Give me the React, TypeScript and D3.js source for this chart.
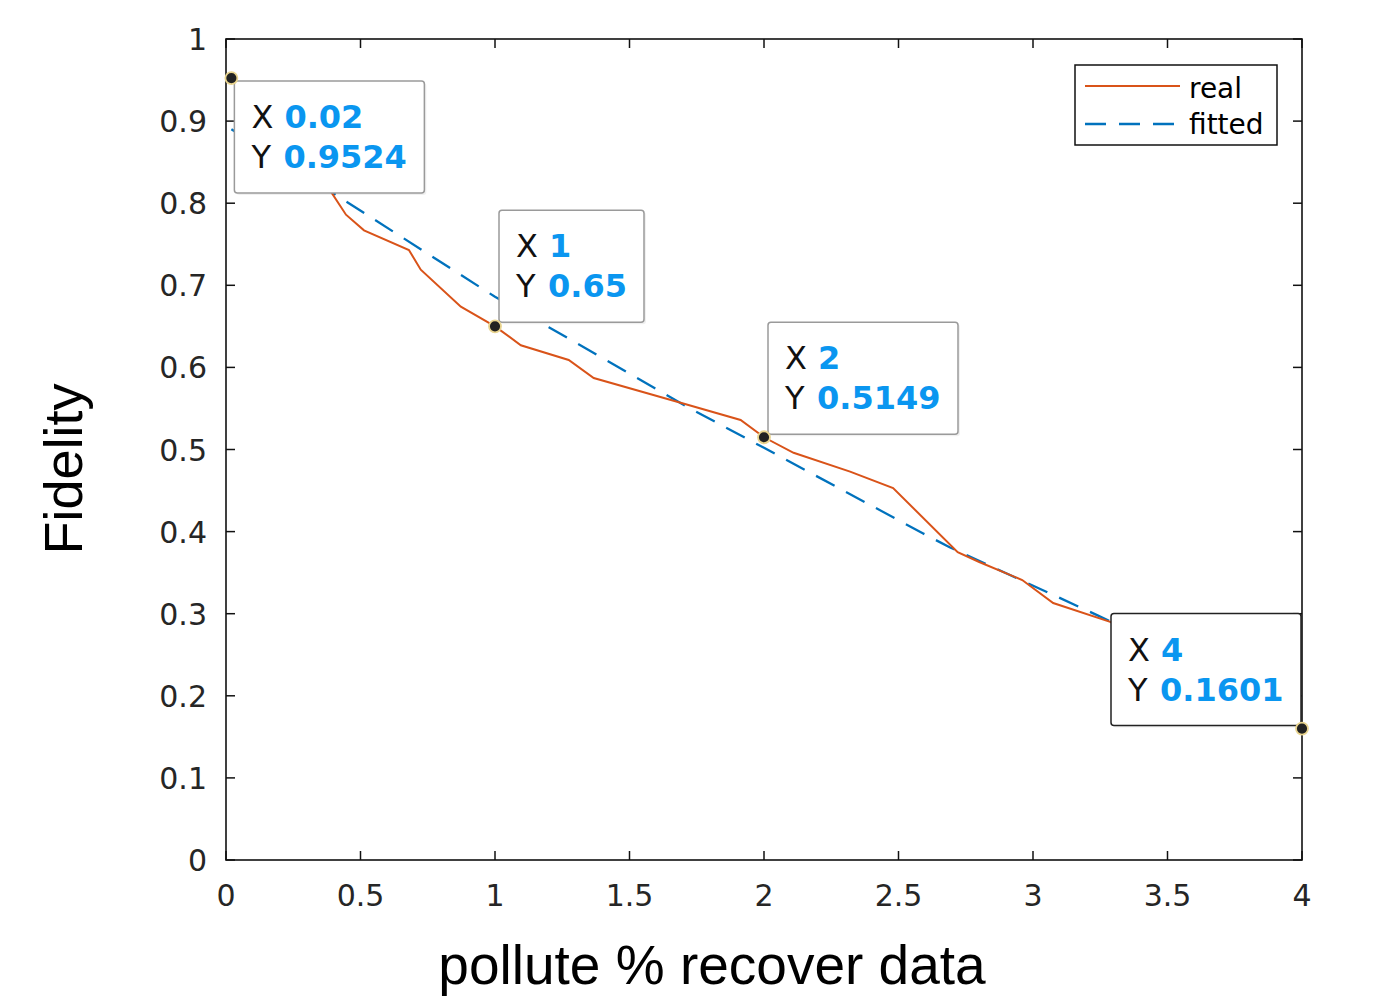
import React from "react";
import * as d3 from "d3";

const realX = [0.02, 0.2, 0.39, 0.446, 0.513, 0.68, 0.724, 0.873, 1.0, 1.096, 1.274, 1.367, 1.69, 1.913, 2.0, 2.11, 2.32, 2.48, 2.72, 2.8, 2.96, 3.075, 3.287, 3.6, 4.0];
const realY = [0.9524, 0.88, 0.814, 0.786, 0.767, 0.743, 0.719, 0.674, 0.65, 0.627, 0.609, 0.587, 0.557, 0.536, 0.5149, 0.496, 0.473, 0.453, 0.375, 0.363, 0.341, 0.313, 0.29, 0.235, 0.1601];

const fitX = [0.02, 0.39, 1.0, 1.2, 1.72, 2.0, 2.59, 2.69, 3.24, 4.0];
const fitY = [0.89, 0.814, 0.686, 0.649, 0.551, 0.502, 0.398, 0.381, 0.298, 0.18];

const tipX = [0.02, 1, 2, 4];
const tipY = [0.9524, 0.65, 0.5149, 0.1601];
const tipXText = ["0.02", "1", "2", "4"];
const tipYText = ["0.9524", "0.65", "0.5149", "0.1601"];

const xTicks = [0, 0.5, 1, 1.5, 2, 2.5, 3, 3.5, 4];
const yTicks = [0, 0.1, 0.2, 0.3, 0.4, 0.5, 0.6, 0.7, 0.8, 0.9, 1];

const legendLabels = ["real", "fitted"];

// layout
const W = 1377, H = 1000;
const L = 226, R = 1302, T = 39, B = 860;
const ORANGE = "#D95319";
const BLUE = "#0072BD";
const TIPBLUE = "#0A96F0";
const TXT = "#262626";
const DASH = "21 13";

const tipLayout = [
  { dx: 3, dy: 3, w: 190, border: "#9a9a9a" },
  { dx: 4, dy: -116, w: 145, border: "#9a9a9a" },
  { dx: 4, dy: -115, w: 190, border: "#9a9a9a" },
  { dx: -191, dy: -115, w: 190, border: "#222" },
];
const TIP_H = 112;

export default function App() {
  const x = d3.scaleLinear().domain([0, 4]).range([L, R]);
  const y = d3.scaleLinear().domain([0, 1]).range([B, T]);

  const line = d3
    .line<[number, number]>()
    .x((d) => x(d[0]))
    .y((d) => y(d[1]));

  const realPts = realX.map((v, i) => [v, realY[i]] as [number, number]);
  const fitPts = fitX.map((v, i) => [v, fitY[i]] as [number, number]);

  const tickFont = "'DejaVu Sans', sans-serif";

  return (
    <div style={{ position: "absolute", left: 0, top: 0 }}>
      <svg width={W} height={H} viewBox={`0 0 ${W} ${H}`} style={{ display: "block", background: "#fff" }}>
        <rect x={0} y={0} width={W} height={H} fill="#fff" />
        <defs>
          <clipPath id="plotclip">
            <rect x={L} y={T} width={R - L} height={B - T} />
          </clipPath>
        </defs>

        <g clipPath="url(#plotclip)">
          <path d={line(fitPts) || ""} fill="none" stroke={BLUE} strokeWidth={2.3} strokeDasharray={DASH} />
          <path d={line(realPts) || ""} fill="none" stroke={ORANGE} strokeWidth={2} />
        </g>

        <rect x={L} y={T} width={R - L} height={B - T} fill="none" stroke="#111" strokeWidth={1.6} />

        {xTicks.map((t) => (
          <g key={"xt" + t}>
            <line x1={x(t)} x2={x(t)} y1={B} y2={B - 9} stroke="#111" strokeWidth={1.5} />
            <line x1={x(t)} x2={x(t)} y1={T} y2={T + 9} stroke="#111" strokeWidth={1.5} />
            <text x={x(t)} y={906} textAnchor="middle" fontFamily={tickFont} fontSize={30} fill={TXT}>
              {d3.format("~g")(t)}
            </text>
          </g>
        ))}
        {yTicks.map((t) => (
          <g key={"yt" + t}>
            <line x1={L} x2={L + 9} y1={y(t)} y2={y(t)} stroke="#111" strokeWidth={1.5} />
            <line x1={R} x2={R - 9} y1={y(t)} y2={y(t)} stroke="#111" strokeWidth={1.5} />
            <text x={207} y={y(t) + 11} textAnchor="end" fontFamily={tickFont} fontSize={30} fill={TXT}>
              {d3.format("~g")(t)}
            </text>
          </g>
        ))}

        <text x={712} y={984} textAnchor="middle" fontFamily="'Liberation Sans', Arial, sans-serif" fontSize={55} fill="#000">
          pollute % recover data
        </text>
        <text
          transform={`translate(82, 469) rotate(-90)`}
          textAnchor="middle"
          fontFamily="'Liberation Sans', Arial, sans-serif"
          fontSize={54}
          fill="#000"
        >
          Fidelity
        </text>

        <g>
          <rect x={1075} y={65} width={202} height={80} fill="#fff" stroke="#111" strokeWidth={1.5} />
          <line x1={1085} x2={1180} y1={86} y2={86} stroke={ORANGE} strokeWidth={2} />
          <line x1={1085} x2={1180} y1={124} y2={124} stroke={BLUE} strokeWidth={2.3} strokeDasharray={DASH} />
          <text x={1189} y={98} fontFamily={tickFont} fontSize={28} fill="#000">{legendLabels[0]}</text>
          <text x={1189} y={134} fontFamily={tickFont} fontSize={28} fill="#000">{legendLabels[1]}</text>
        </g>

        {tipX.map((tx, i) => {
          const px = x(tx);
          const py = y(tipY[i]);
          const lay = tipLayout[i];
          const bx = px + lay.dx;
          const by = py + lay.dy;
          return (
            <g key={"tip" + i}>
              <rect x={bx + 2} y={by + 2} width={lay.w} height={TIP_H} rx={3} fill="#000" opacity={0.06} />
              <rect x={bx} y={by} width={lay.w} height={TIP_H} rx={3} fill="#fff" stroke={lay.border} strokeWidth={1.5} />
              <text x={bx + 17} y={by + 47} fontFamily={tickFont} fontSize={32} fill="#111">
                X
                <tspan x={bx + 50} fontWeight="bold" fill={TIPBLUE}>{tipXText[i]}</tspan>
              </text>
              <text x={bx + 17} y={by + 87} fontFamily={tickFont} fontSize={32} fill="#111">
                Y
                <tspan x={bx + 49} fontWeight="bold" fill={TIPBLUE}>{tipYText[i]}</tspan>
              </text>
              <circle cx={px} cy={py} r={6} fill="#222" stroke="#e9d48e" strokeWidth={1.8} />
            </g>
          );
        })}
      </svg>
    </div>
  );
}
